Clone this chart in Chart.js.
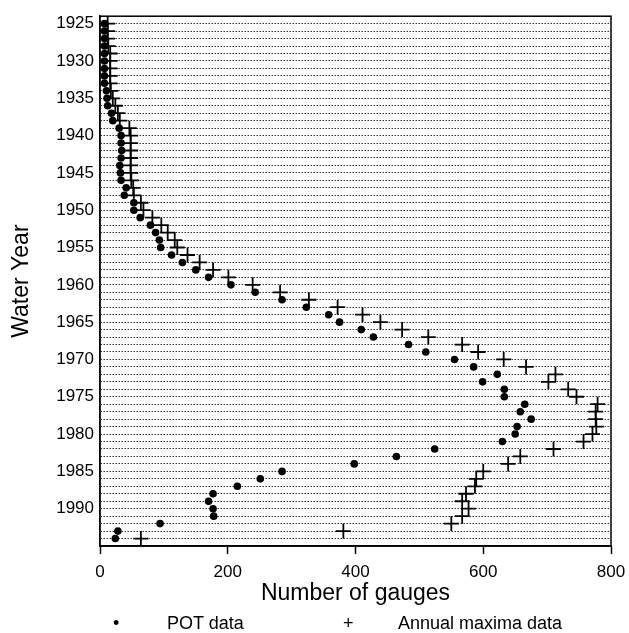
<!DOCTYPE html>
<html>
<head>
<meta charset="utf-8">
<script src="https://cdn.jsdelivr.net/npm/chart.js@4.4.1/dist/chart.umd.min.js"></script>
<style>
    html, body { margin: 0; padding: 0; background: #fff; }
    #wrap { position: relative; width: 629px; height: 633px; }
    #legend span {
        position: absolute;
        top: 614px;
        font-family: "Liberation Sans", Arial, sans-serif;
        font-size: 18px;
        line-height: 18px;
        color: #000;
    }
</style>
</head>
<body>
<div id="wrap">
    <canvas id="gaugeChart" width="629" height="633"></canvas>
    <div id="legend">
        <span style="left:113px">•</span>
        <span style="left:167px">POT data</span>
        <span style="left:343px">+</span>
        <span style="left:398px">Annual maxima data</span>
    </div>
</div>
<script>
// water years, one row per year
const waterYears = [
    1925, 1926, 1927, 1928, 1929, 1930, 1931, 1932, 1933, 1934,
    1935, 1936, 1937, 1938, 1939, 1940, 1941, 1942, 1943, 1944,
    1945, 1946, 1947, 1948, 1949, 1950, 1951, 1952, 1953, 1954,
    1955, 1956, 1957, 1958, 1959, 1960, 1961, 1962, 1963, 1964,
    1965, 1966, 1967, 1968, 1969, 1970, 1971, 1972, 1973, 1974,
    1975, 1976, 1977, 1978, 1979, 1980, 1981, 1982, 1983, 1984,
    1985, 1986, 1987, 1988, 1989, 1990, 1991, 1992, 1993, 1994
];

// number of gauges with POT data
const potGauges = [
    7, 7, 7, 7, 7, 7, 7, 7, 7, 10,
    11, 12, 18, 20, 30, 33, 33, 34, 33, 31,
    32, 33, 41, 38, 53, 53, 63, 79, 87, 93,
    95, 112, 129, 150, 170, 205, 243, 285, 323, 358,
    375, 409, 428, 483, 510, 555, 585, 622, 599, 633,
    633, 665, 658, 675, 653, 650, 630, 524, 464, 398,
    285, 251, 215, 177, 170, 177, 178, 94, 28, 24
];

// number of gauges with annual maxima data
const amGauges = [
    12, 12, 12, 13, 16, 16, 16, 16, 16, 17,
    20, 24, 28, 31, 46, 48, 48, 48, 48, 48,
    48, 49, 52, 53, 64, 68, 82, 96, 106, 117,
    121, 137, 156, 177, 201, 239, 282, 327, 372, 411,
    439, 473, 514, 567, 592, 632, 667, 713, 702, 733,
    746, 779, 776, 776, 777, 771, 757, 710, 658, 639,
    600, 589, 587, 573, 567, 577, 567, 550, 381, 64
];

const xTicks = [0, 200, 400, 600, 800];
const yLabels = [1925, 1930, 1935, 1940, 1945, 1950, 1955, 1960, 1965, 1970, 1975, 1980, 1985, 1990];

const fontFamily = '"Liberation Sans", Arial, sans-serif';

// box round the plot area
const framePlugin = {
    id: 'frame',
    beforeDatasetsDraw(chart) {
        const { ctx, chartArea: a } = chart;
        ctx.save();
        ctx.strokeStyle = '#000';
        ctx.lineWidth = 1.5;
        ctx.setLineDash([]);
        ctx.strokeRect(a.left, a.top, a.right - a.left, a.bottom - a.top);
        ctx.restore();
    }
};

const ctx = document.getElementById('gaugeChart').getContext('2d');
new Chart(ctx, {
    type: 'scatter',
    data: {
        datasets: [
            {
                label: 'POT data',
                data: waterYears.map((yr, i) => ({ x: potGauges[i], y: yr })),
                pointStyle: 'circle',
                pointRadius: 3.8,
                pointBorderWidth: 0,
                backgroundColor: '#000',
                borderColor: '#000'
            },
            {
                label: 'Annual maxima data',
                data: waterYears.map((yr, i) => ({ x: amGauges[i], y: yr })),
                pointStyle: 'cross',
                pointRadius: 7.5,
                pointBorderWidth: 1.8,
                backgroundColor: '#000',
                borderColor: '#000'
            }
        ]
    },
    options: {
        responsive: false,
        animation: false,
        layout: { padding: { top: 13, right: 18, bottom: 28, left: 0 } },
        plugins: {
            legend: { display: false },
            tooltip: { enabled: false }
        },
        scales: {
            x: {
                type: 'linear',
                position: 'bottom',
                min: xTicks[0],
                max: xTicks[xTicks.length - 1],
                afterBuildTicks: (scale) => { scale.ticks = xTicks.map(v => ({ value: v })); },
                afterFit: (scale) => { scale.paddingLeft = 0; scale.paddingRight = 0; },
                ticks: {
                    color: '#000',
                    font: { size: 17, family: fontFamily, lineHeight: 1 },
                    padding: 10,
                    maxRotation: 0
                },
                grid: {
                    drawOnChartArea: false,
                    drawTicks: true,
                    tickLength: 8,
                    tickColor: '#000',
                    tickWidth: 1.5
                },
                border: { color: '#000', width: 1.5 },
                title: {
                    display: true,
                    text: 'Number of gauges',
                    color: '#000',
                    font: { size: 23, family: fontFamily, lineHeight: 1 },
                    padding: { top: -9, bottom: 0 }
                }
            },
            y: {
                type: 'linear',
                reverse: true,
                min: 1924,
                max: 1995,
                afterFit: (scale) => { scale.width = 100; },
                ticks: {
                    stepSize: 1,
                    autoSkip: false,
                    maxTicksLimit: 200,
                    color: '#000',
                    font: { size: 17, family: fontFamily },
                    padding: 6,
                    callback: (v) => (yLabels.includes(v) ? String(v) : '')
                },
                grid: {
                    drawTicks: false,
                    color: 'rgba(0,0,0,0.8)',
                    lineWidth: 1,
                    borderDash: [1.5, 1.5]
                },
                border: { color: '#000', width: 1.5, dash: [1.5, 1.5] },
                title: {
                    display: true,
                    text: 'Water Year',
                    color: '#000',
                    font: { size: 23, family: fontFamily, lineHeight: 1 },
                    padding: { top: 10, bottom: 0 }
                }
            }
        }
    },
    plugins: [framePlugin]
});
</script>
</body>
</html>
